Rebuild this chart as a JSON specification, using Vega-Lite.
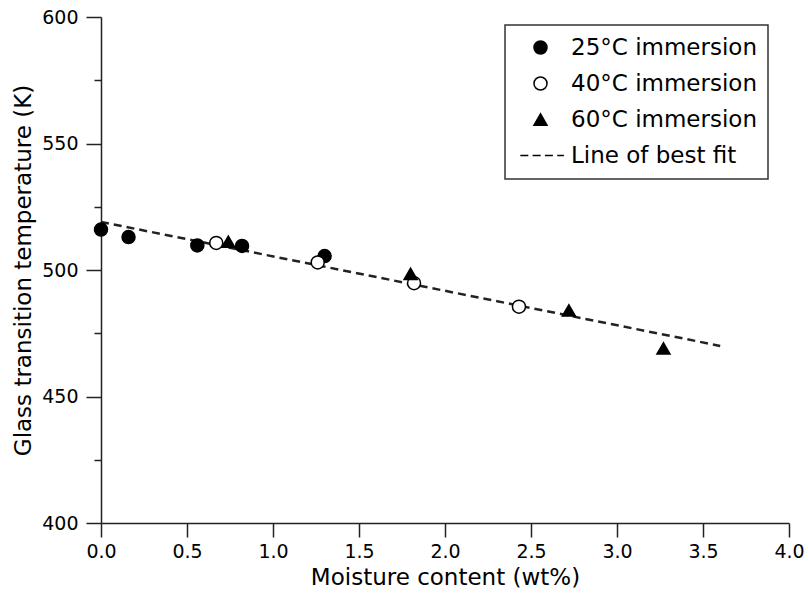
{
  "$schema": "https://vega.github.io/schema/vega-lite/v6.json",
  "width": 688,
  "height": 506,
  "autosize": {"type": "none"},
  "padding": {"left": 101, "top": 17, "right": 20, "bottom": 74},
  "background": "white",
  "config": {
    "view": {"stroke": null},
    "font": "DejaVu Sans",
    "axis": {
      "grid": false,
      "domainColor": "#222",
      "domainWidth": 1.5,
      "tickColor": "#222",
      "tickWidth": 1.5,
      "labelFont": "DejaVu Sans",
      "labelFontSize": 19,
      "labelColor": "#000",
      "titleFont": "DejaVu Sans",
      "titleFontSize": 23,
      "titleFontWeight": "normal",
      "titleColor": "#000"
    },
    "legend": {"strokeWidth": 1.5}
  },
  "datasets": {
    "fit": [
      {"x": 0.0, "y": 519.0},
      {"x": 3.6, "y": 470.0}
    ],
    "pts": [
      {"series": "25°C immersion", "x": 0.0, "y": 516.0},
      {"series": "25°C immersion", "x": 0.16, "y": 513.0},
      {"series": "25°C immersion", "x": 0.56, "y": 509.7},
      {"series": "25°C immersion", "x": 0.82, "y": 509.5},
      {"series": "25°C immersion", "x": 1.3, "y": 505.5},
      {"series": "40°C immersion", "x": 0.67, "y": 510.7},
      {"series": "40°C immersion", "x": 1.26, "y": 503.0},
      {"series": "40°C immersion", "x": 1.82, "y": 494.8},
      {"series": "40°C immersion", "x": 2.43, "y": 485.5},
      {"series": "60°C immersion", "x": 0.74, "y": 511.2},
      {"series": "60°C immersion", "x": 1.8, "y": 498.5},
      {"series": "60°C immersion", "x": 2.72, "y": 484.0},
      {"series": "60°C immersion", "x": 3.27, "y": 469.0}
    ]
  },
  "layer": [
    {
      "data": {"name": "fit"},
      "mark": {"type": "line", "strokeDash": [8, 5], "strokeWidth": 2.5, "color": "#222"},
      "encoding": {
        "x": {
          "field": "x", "type": "quantitative",
          "scale": {"domain": [0, 4], "nice": false},
          "axis": {
            "values": [0, 0.5, 1, 1.5, 2, 2.5, 3, 3.5, 4],
            "format": ".1f",
            "title": "Moisture content (wt%)",
            "tickSize": 14,
            "labelPadding": 5,
            "titlePadding": 5,
            "labelFlush": false
          }
        },
        "y": {
          "field": "y", "type": "quantitative",
          "scale": {"domain": [400, 600], "nice": false, "zero": false},
          "axis": {
            "values": [400, 425, 450, 475, 500, 525, 550, 575, 600],
            "labelExpr": "datum.value % 50 === 0 ? datum.label : ''",
            "title": "Glass transition temperature (K)",
            "tickSize": {"condition": {"test": "datum.value % 50 === 0", "value": 15}, "value": 7},
            "labelPadding": 8,
            "titlePadding": 6,
            "labelFlush": false
          }
        }
      }
    },
    {
      "data": {"name": "pts"},
      "mark": {"type": "point", "filled": true, "size": 169, "stroke": "black", "strokeWidth": 1.5, "opacity": 1},
      "encoding": {
        "x": {"field": "x", "type": "quantitative"},
        "y": {"field": "y", "type": "quantitative"},
        "fill": {
          "field": "series", "type": "nominal",
          "scale": {
            "domain": ["25°C immersion", "40°C immersion", "60°C immersion", "Line of best fit"],
            "range": ["black", "white", "black", "black"]
          },
          "legend": {
            "title": null,
            "orient": "none",
            "legendX": 404,
            "legendY": 8,
            "padding": 11,
            "symbolOffset": 13,
            "labelOffset": 19,
            "rowPadding": 12,
            "labelFontSize": 23,
            "labelFont": "DejaVu Sans",
            "labelColor": "#000",
            "labelLimit": 400,
            "strokeColor": "#333",
            "fillColor": "white",
            "symbolSize": 169,
            "symbolStrokeColor": "black",
            "symbolStrokeWidth": 1.5,
            "encode": {
              "symbols": {
                "update": {
                  "stroke": {"value": "black"},
                  "strokeWidth": [
                    {"test": "datum.value === 'Line of best fit'", "value": 3},
                    {"value": 1.5}
                  ]
                }
              }
            }
          }
        },
        "shape": {
          "field": "series", "type": "nominal",
          "scale": {
            "domain": ["25°C immersion", "40°C immersion", "60°C immersion", "Line of best fit"],
            "range": ["circle", "circle", "triangle-up", "M-3.1,0L-1.87,0M-1.21,0L0.02,0M0.68,0L1.91,0M2.57,0L3.6,0"]
          },
          "legend": {
            "title": null,
            "orient": "none",
            "legendX": 404,
            "legendY": 8
          }
        }
      }
    }
  ]
}
